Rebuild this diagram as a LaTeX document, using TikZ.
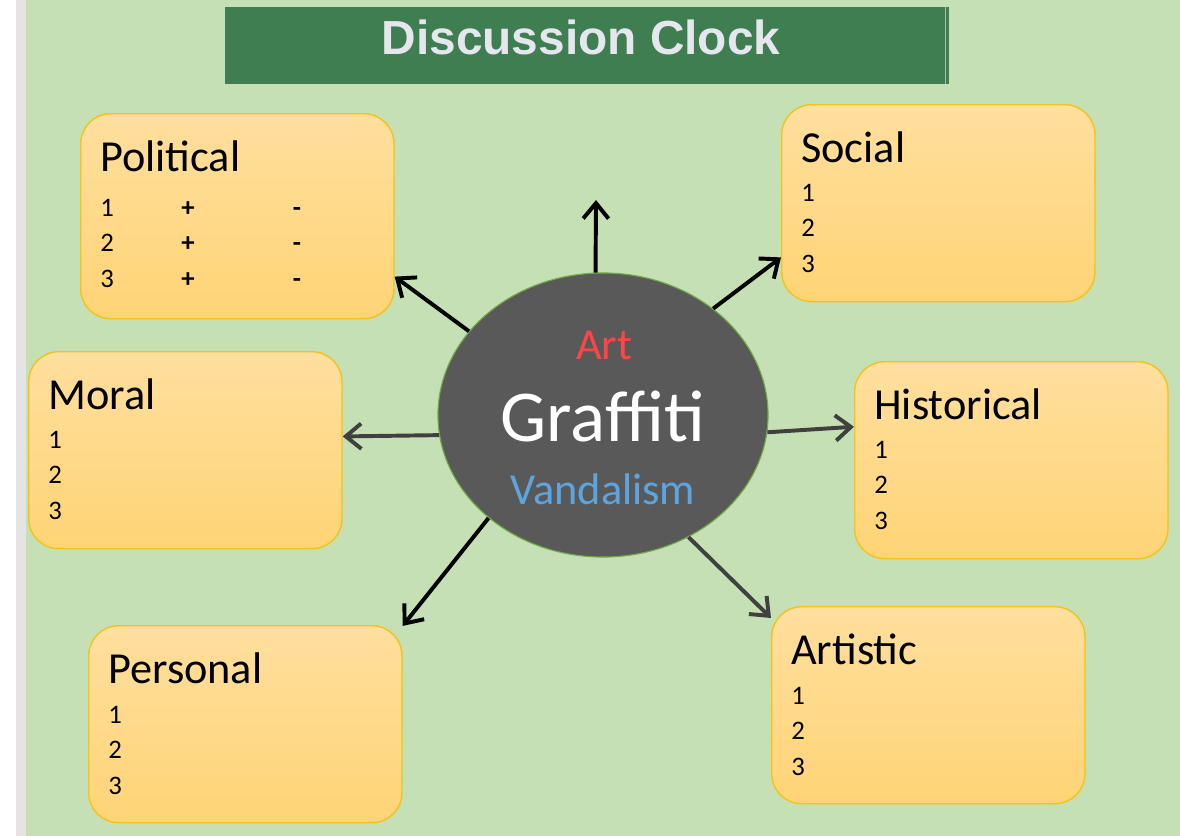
\documentclass[tikz,border=0pt]{standalone}
\usepackage{fontspec}
\setmainfont{Carlito}
\newfontfamily\titlefont{Liberation Sans}
\usetikzlibrary{shapes.geometric,arrows.meta}
\definecolor{bggreen}{HTML}{C5E0B4}
\definecolor{stripgray}{HTML}{E4E4E4}
\definecolor{titlegreen}{HTML}{3E7E50}
\definecolor{titleedge}{HTML}{A9B8B0}
\definecolor{titletext}{HTML}{E6E6EE}
\definecolor{boxtop}{HTML}{FFDF9E}
\definecolor{boxbottom}{HTML}{FFD476}
\definecolor{boxline}{HTML}{F5C21A}
\definecolor{ellipsegray}{HTML}{595959}
\definecolor{ellipseline}{HTML}{6FAC46}
\definecolor{arrowgray}{HTML}{404040}
\definecolor{artred}{HTML}{FF4545}
\definecolor{vandblue}{HTML}{5DA5E0}

\begin{document}
\begin{tikzpicture}[x=0.025cm, y=-0.025cm,
  box/.style={draw=boxline, line width=1pt, rounded corners=0.75cm, top color=boxtop, bottom color=boxbottom, minimum width=7.83cm, anchor=north west, inner sep=0pt},
  head/.style={anchor=west, font=\fontsize{31.5}{36}\selectfont, inner sep=0pt},
  item/.style={anchor=west, font=\fontsize{19}{22}\selectfont, inner sep=0pt, text height=12pt, text depth=0pt},
  sign/.style={font=\fontsize{19}{22}\selectfont\bfseries, inner sep=0pt, text height=12pt, text depth=0pt},
  link/.style={line width=2.8pt, -{Straight Barb[length=11pt,width=18pt,line width=2.8pt]}}]
\useasboundingbox (0,0) rectangle (1180,836);
\fill[white] (0,0) rectangle (16,836);
\fill[stripgray] (16,0) rectangle (26,836);
\fill[bggreen] (26,0) rectangle (1180,836);

\node[fill=titlegreen, minimum width=18.1cm, minimum height=1.925cm, inner sep=0pt] (titlebar) at (587,45.5) {};
\draw[titleedge, line width=1.2pt] (titlebar.north east) ++(-4,0) -- ++(0,77);
\node[font=\titlefont\bfseries\fontsize{34}{40}\selectfont, text=titletext] (title) at (581,37) {Discussion Clock};

\foreach \n/\bx/\by/\h/\t/\ly in {political/80/113/205/Political/208, social/781/104/197/Social/193, moral/28/351/197/Moral/440, historical/854/361/197/Historical/450, personal/88/625/197/Personal/715, artistic/771/606/197/Artistic/696} {
  \node[box, minimum height={\h*0.025cm}] (\n) at (\bx,\by) {};
  \node[head] (\n-head) at (\bx+20,\by+43) {\t};
  \foreach \k in {1,2,3} {\node[item] (\n-\k) at (\bx+20,{\ly+(\k-1)*35.5}) {\k};}
}
\foreach \k in {1,2,3} {
  \node[sign] (plus-\k) at (188,{208+(\k-1)*35.5}) {+};
  \node[sign] (minus-\k) at (297,{208+(\k-1)*35.5}) {-};
}

\node[ellipse, fill=ellipsegray, draw=ellipseline, line width=0.8pt, minimum width=8.25cm, minimum height=7.1cm, inner sep=0pt] (graffiti) at (603,415) {};
\node[font=\fontsize{31.5}{36}\selectfont, text=artred] (art) at (604,345) {Art};
\node[font=\fontsize{52}{58}\selectfont, text=white] (name) at (603,416) {Graffiti};
\node[font=\fontsize{31.5}{36}\selectfont, text=vandblue] (vandalism) at (603,489) {Vandalism};

\coordinate (up) at (596,200);
\draw[link] (graffiti.93) -- (up);
\foreach \a/\b/\c in {148/political.-21/black, 44/social.199/black, 187/moral.5/arrowgray, 354/historical.168/arrowgray, 222/personal.32/black, 305/artistic.151/arrowgray}
  \draw[link, draw=\c] (graffiti.\a) -- (\b);
\end{tikzpicture}
\end{document}
